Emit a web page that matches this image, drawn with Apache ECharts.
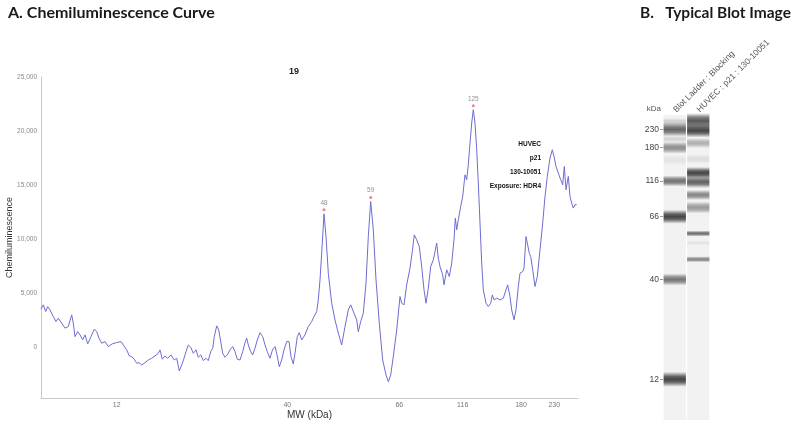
<!DOCTYPE html>
<html>
<head>
<meta charset="utf-8">
<script src="https://cdn.jsdelivr.net/npm/echarts@6/dist/echarts.min.js"></script>
<style>
html,body{margin:0;padding:0;background:#fff;}
#chart{width:800px;height:426px;}
</style>
</head>
<body>
<div id="chart"></div>
<script>
// ---- Chemiluminescence curve (migration position vs signal) ----
const positions = [0,2.3,4.7,6.7,9,12.3,15,17.3,20.7,24,27.3,30.7,32.3,34,36.7,39,41.7,44,46.7,50,53.3,55.7,58,60.7,64,67.3,71.3,75.7,80,82.3,85.7,88.3,90.7,93.3,95.7,98,100.7,104,107.3,110.7,114,117.3,119,121.3,124,126.7,130,133.3,135.7,138.3,140.7,142.5,145,147.3,149.7,152.3,155,157.3,159.7,162.3,165,167.3,169.7,171.7,173.3,175.7,177.7,179.7,181.7,184,186.3,189,191.7,194,196.3,199,201.7,204,205.7,207.3,209.7,211.7,214,216.3,219,221.7,224,226.3,229,231.7,234,235.7,238.3,240.7,243,245.7,248,250,252.3,254,256.3,258.3,260.7,264,267.3,270.7,273,275.7,277.3,279,280.7,283,285,287.3,290.7,294,297.3,300.7,304,307.3,309.7,313,315.7,317.3,319.7,322.3,325,327.3,329.7,332.3,335,338.3,341.7,345,347.3,349.7,352.3,355.7,359,360.7,363,365.7,369,371.3,373.3,375.7,378.3,380.7,383,385,387.3,389.7,392.3,394,395.7,397.3,399,401.7,403,405.7,408.3,410.7,413,414.3,415.7,417.3,419.7,421.7,424,425.7,427.3,429,430.7,432.3,434,435.7,437.3,439,440.7,442.3,445,447.3,449.7,451.3,453,455.7,459,462.3,465,466.7,469,470.7,473,475,477.3,479,481.7,483,485,486.3,488.3,489.7,491.7,494,496.3,499,501.7,504,506.3,509,511.3,513,515,517.3,519.7,521.7,523.3,525,527.3,529,530.7,532.3,534,535.7];
const signal = [3520,3920,3300,3760,3450,2830,2370,2690,2220,1760,1910,2990,2220,980,1440,1140,680,1140,310,980,1670,1440,830,370,520,60,310,430,520,210,-250,-810,-870,-1110,-1480,-1430,-1640,-1430,-1180,-1020,-810,-560,-250,-1110,-810,-1020,-710,-1180,-1020,-2200,-1640,-1180,-410,210,0,-560,-250,-930,-710,-1240,-1020,-1240,-410,-90,980,1970,1600,520,-560,-930,-710,-250,60,-410,-1110,-1180,-410,430,830,210,-410,-710,-90,680,1350,980,210,-410,-1020,-190,60,-560,-1800,-1180,-250,520,520,-870,-1550,-560,980,1350,680,1140,1910,2370,2830,3300,4380,6230,8700,12340,10240,6850,4070,2520,1300,210,1910,3450,3920,3150,2530,1440,2370,3150,5930,10240,13480,10860,6230,2220,-1180,-2570,-3190,-2570,-870,1600,4690,4070,3920,5770,7320,8850,10400,9940,9320,7460,5310,4070,5460,7460,8080,8850,9630,8240,7460,6690,5770,7160,6540,7780,9940,11940,10860,11790,13020,13940,15950,15490,16880,18890,20740,21970,20740,18270,15190,11480,7780,5310,4070,3760,4070,4840,4380,4540,4380,4540,5310,5770,4690,3450,2530,3450,5610,6850,7000,7320,10240,10090,8700,8390,7160,5610,6540,9010,11480,13940,15800,17500,18270,17650,16720,16110,15490,15030,16720,14570,15800,13940,13330,12870,13190,13190];
const mwTickPositions = [75.7, 246.3, 358.3, 421.7, 480, 513.3];
const mwTickLabels = ['12', '40', '66', '116', '180', '230'];
const yTickValues = [0, 5000, 10000, 15000, 20000, 25000];
const peakPositions = [283, 329.7, 432.3];
const peakLabels = ['48', '59', '125'];
const sampleInfo = ['HUVEC', 'p21', '130-10051', 'Exposure: HDR4'];

// ---- Blot image ----
const blotLanes = ['Blot Ladder : Blocking', 'HUVEC : p21 : 130-10051'];
const blotMarkerPositions = [14.3, 32.7, 66, 101.7, 164.5, 264.3];
const blotMarkerLabels = ['230', '180', '116', '66', '40', '12'];
const bandLane =      [0,    0,    0,    0,    0,    0,    0,     0,     0,     1,    1,    1,    1,    1,    1,    1,    1,    1,     1,    1];
const bandCenter =    [14.5, 7,    24,   32.7, 45,   66,   101.7, 164.5, 264.3, 6,    15.5, 28,   44,   58,   67,   80,   92.5, 118.5, 128,  144.3];
const bandThickness = [14,   8,    7,    12,   10,   11,   14,    12,    15,    16,   14,   10,   9,    12,   12,   10,   12,   6,     5,    6];
const bandIntensity = [0.68, 0.18, 0.14, 0.48, 0.07, 0.62, 0.84,  0.6,   0.84,  0.74, 0.84, 0.32, 0.1,  0.84, 0.7,  0.52, 0.42, 0.62,  0.07, 0.52];

const lineData = positions.map((p, i) => [p, signal[i]]);
const peakData = peakPositions.map(p => [p, signal[positions.indexOf(p)]]);
const bandData = bandLane.map((l, i) => [l, bandCenter[i], bandThickness[i], bandIntensity[i]]);

const FONT = '"Liberation Sans", Arial, sans-serif';
const chart = echarts.init(document.getElementById('chart'), null, {renderer: 'canvas'});

chart.setOption({
  backgroundColor: '#ffffff',
  animation: false,
  title: [
    {text: 'A. Chemiluminescence Curve', left: 3, top: 0,
     textStyle: {fontFamily: 'Lato', fontWeight: 'bold', fontSize: 16, color: '#1a1a1a'}},
    {text: '19', left: 289, top: 62, textAlign: 'center',
     textStyle: {fontFamily: FONT, fontWeight: 'bold', fontSize: 9, color: '#222'}},
    {text: 'B.   Typical Blot Image', left: 635, top: 0,
     textStyle: {fontFamily: 'Lato', fontWeight: 'bold', fontSize: 15.5, color: '#1a1a1a'}}
  ],
  grid: [
    {left: 41, top: 77, width: 537, height: 321, outerBoundsMode: 'none', containLabel: false},
    {left: 663, top: 115, width: 47, height: 305, outerBoundsMode: 'none', containLabel: false}
  ],
  xAxis: [
    {type: 'value', gridIndex: 0, min: 0, max: 537,
     name: 'MW (kDa)', nameLocation: 'middle', nameGap: 12, nameMoveOverlap: false,
     nameTextStyle: {fontFamily: FONT, fontSize: 10, color: '#333'},
     axisLine: {show: true, onZero: false, lineStyle: {color: '#c8c8c8', width: 1}},
     axisTick: {show: false},
     splitLine: {show: false},
     axisLabel: {customValues: mwTickPositions, fontFamily: FONT, fontSize: 7, color: '#777', margin: 4,
       formatter: v => { const i = mwTickPositions.findIndex(t => Math.abs(t - v) < 0.01); return i >= 0 ? mwTickLabels[i] : ''; }}},
    {type: 'category', gridIndex: 1, data: blotLanes, position: 'top',
     axisLine: {show: false}, axisTick: {show: false},
     axisLabel: {rotate: 45, interval: 0, fontFamily: FONT, fontSize: 8.5, color: '#555', margin: 4}}
  ],
  yAxis: [
    {type: 'value', gridIndex: 0, min: -4700, max: 25000,
     name: 'Chemiluminescence', nameLocation: 'middle', nameGap: 27, nameMoveOverlap: false,
     nameTextStyle: {fontFamily: FONT, fontSize: 9, color: '#333'},
     axisLine: {show: true, onZero: false, lineStyle: {color: '#c8c8c8', width: 1}},
     axisTick: {show: false},
     splitLine: {show: false},
     axisLabel: {customValues: yTickValues, fontFamily: FONT, fontSize: 6.5, color: '#888', margin: 4,
       formatter: v => v.toLocaleString('en-US')}},
    {type: 'value', gridIndex: 1, min: 0, max: 305, inverse: true,
     name: 'kDa', nameLocation: 'start', nameGap: 2,
     nameTextStyle: {fontFamily: FONT, fontSize: 8, color: '#555', align: 'right', padding: [0, 2, 0, 0]},
     axisLine: {show: false},
     splitLine: {show: false},
     axisTick: {show: true, customValues: blotMarkerPositions, length: 3, lineStyle: {color: '#999'}},
     axisLabel: {customValues: blotMarkerPositions, fontFamily: FONT, fontSize: 8.5, color: '#444', margin: 4,
       formatter: v => { const i = blotMarkerPositions.findIndex(t => Math.abs(t - v) < 0.01); return i >= 0 ? blotMarkerLabels[i] : ''; }}}
  ],
  series: [
    {type: 'line', xAxisIndex: 0, yAxisIndex: 0, data: lineData, showSymbol: false,
     lineStyle: {color: '#6d6dd2', width: 1}, itemStyle: {color: '#6d6dd2'}},
    {type: 'scatter', xAxisIndex: 0, yAxisIndex: 0, data: peakData, symbolSize: 3, symbolOffset: [0, -4],
     itemStyle: {color: '#e06a6a'},
     label: {show: true, position: 'top', distance: 2, fontFamily: FONT, fontSize: 6.5, color: '#777',
       formatter: p => peakLabels[p.dataIndex]}},
    {type: 'custom', xAxisIndex: 1, yAxisIndex: 1, data: blotLanes.map((l, i) => [i]),
     renderItem: (params, api) => {
       const top = api.coord([api.value(0), 0]);
       const bot = api.coord([api.value(0), 305]);
       const w = api.size([1, 0])[0] * 0.95;
       return {type: 'rect', shape: {x: top[0] - w / 2, y: top[1], width: w, height: bot[1] - top[1]},
         style: {fill: '#f2f2f2'}};
     }},
    {type: 'custom', xAxisIndex: 1, yAxisIndex: 1, data: bandData,
     renderItem: (params, api) => {
       const c = api.coord([api.value(0), api.value(1)]);
       const s = api.size([1, api.value(2)]);
       const w = s[0] * 0.95;
       const a = api.value(3);
       const col = x => `rgba(35,35,35,${x})`;
       return {type: 'rect', shape: {x: c[0] - w / 2, y: c[1] - s[1] / 2, width: w, height: s[1]},
         style: {fill: new echarts.graphic.LinearGradient(0, 0, 0, 1, [
           {offset: 0, color: col(0)}, {offset: 0.3, color: col(a * 0.8)}, {offset: 0.5, color: col(a)},
           {offset: 0.7, color: col(a * 0.8)}, {offset: 1, color: col(0)}])}};
     }}
  ],
  graphic: [
    {type: 'text', left: 'auto', right: 259, top: 137,
     style: {text: sampleInfo.join('\n'), fontFamily: FONT, fontWeight: 'bold', fontSize: 6.5,
       lineHeight: 14, fill: '#111', textAlign: 'right'}}
  ]
});
</script>
</body>
</html>
